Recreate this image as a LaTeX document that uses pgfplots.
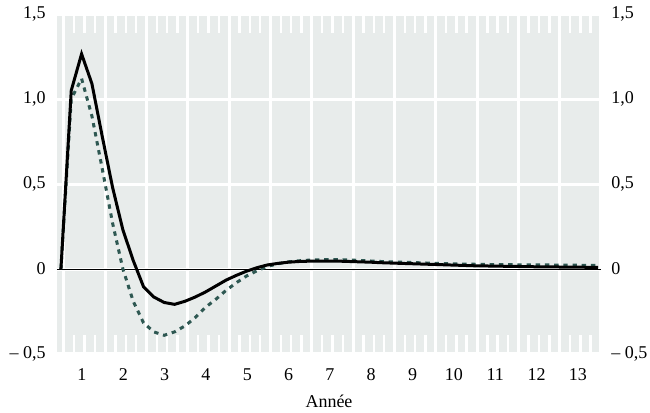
\documentclass[border=0pt]{standalone}
\usepackage{fontspec}
\setmainfont{Liberation Serif}
\usepackage{pgfplots}
\usepackage{pgfplotstable}
\pgfplotsset{compat=1.18}
\definecolor{bgc}{HTML}{E8ECEB}
\definecolor{dashc}{HTML}{2E5852}
\pgfplotstableread{
x s d
-0.07 0 0
0.18 1.05 1.00
0.43 1.265 1.12
0.68 1.09 0.90
0.93 0.78 0.59
1.18 0.48 0.27
1.43 0.23 0.00
1.68 0.05 -0.19
1.93 -0.105 -0.317
2.18 -0.165 -0.37
2.43 -0.197 -0.39
2.68 -0.208 -0.37
2.93 -0.19 -0.335
3.18 -0.165 -0.286
3.43 -0.135 -0.225
3.68 -0.10 -0.178
3.93 -0.065 -0.125
4.18 -0.037 -0.08
4.43 -0.012 -0.04
4.68 0.008 -0.01
4.93 0.024 0.015
5.18 0.033 0.031
5.43 0.040 0.042
5.68 0.044 0.048
5.93 0.046 0.052
6.18 0.047 0.054
6.43 0.047 0.056
6.68 0.046 0.055
6.93 0.044 0.053
7.18 0.042 0.050
7.43 0.040 0.047
7.68 0.037 0.044
7.93 0.035 0.042
8.18 0.033 0.040
8.43 0.031 0.038
8.68 0.029 0.036
8.93 0.027 0.034
9.18 0.025 0.032
9.43 0.023 0.030
9.68 0.021 0.029
9.93 0.019 0.028
10.18 0.018 0.027
10.43 0.017 0.026
10.68 0.016 0.026
10.93 0.015 0.025
11.18 0.014 0.025
11.43 0.013 0.024
11.68 0.012 0.024
11.93 0.012 0.023
12.18 0.011 0.023
12.43 0.011 0.022
12.68 0.010 0.022
12.93 0.010 0.022
}\datatable
\begin{document}
\fontsize{9}{11}\selectfont
\begin{tikzpicture}
\path[use as bounding box] (-28.5pt,-29.5pt) rectangle (296.5pt,177pt);
\begin{axis}[
  at={(0pt,0pt)}, anchor=south west,
  scale only axis, width=272pt, height=170pt,
  xmin=-0.165, xmax=13, ymin=-0.5, ymax=1.5,
  axis line style={draw=none},
  axis background/.style={fill=bgc},
  xtick={0,...,13}, xticklabels={},
  minor x tick num=3,
  xtick pos=both, tick align=inside,
  major tick length=0pt,
  minor tick length=9.5pt,
  minor tick style={white, line width=1.2pt},
  xmajorgrids, ymajorgrids,
  major grid style={white, line width=1.5pt},
  extra x ticks={0.44,1.44,2.44,3.44,4.44,5.44,6.44,7.44,8.44,9.44,10.44,11.44,12.44},
  extra x tick labels={1,2,3,4,5,6,7,8,9,10,11,12,13},
  extra x tick style={grid=none, major tick length=0pt, xticklabel pos=bottom, xticklabel style={yshift=-4pt}},
  ytick={-0.5,0,0.5,1,1.5},
  yticklabels={{– 0,5},{0},{0,5},{1,0},{1,5}},
  ytick pos=left,
  yticklabel style={anchor=east, xshift=-2.5pt},
  tick label style={font=\fontsize{9}{11}\selectfont},
  xlabel={Année},
  xlabel style={font=\fontsize{9}{11}\selectfont, yshift=-1pt},
  clip=false,
]
\draw[black, line width=0.5pt] (axis cs:-0.165,0) -- (axis cs:13,0);
\addplot[dashc, line width=1.5pt, dash pattern=on 2.2pt off 2.4pt] table[x=x,y=d]{\datatable};
\addplot[black, line width=1.5pt] table[x=x,y=s]{\datatable};
\end{axis}
\begin{axis}[
  at={(0pt,0pt)}, anchor=south west,
  scale only axis, width=272pt, height=170pt,
  xmin=-0.165, xmax=13, ymin=-0.5, ymax=1.5,
  axis line style={draw=none},
  hide x axis,
  axis y line*=right,
  ytick={-0.5,0,0.5,1,1.5},
  yticklabels={{– 0,5},{0},{0,5},{1,0},{1,5}},
  major tick length=0pt,
  yticklabel style={anchor=west, xshift=2pt},
  tick label style={font=\fontsize{9}{11}\selectfont},
]
\end{axis}
\end{tikzpicture}
\end{document}
